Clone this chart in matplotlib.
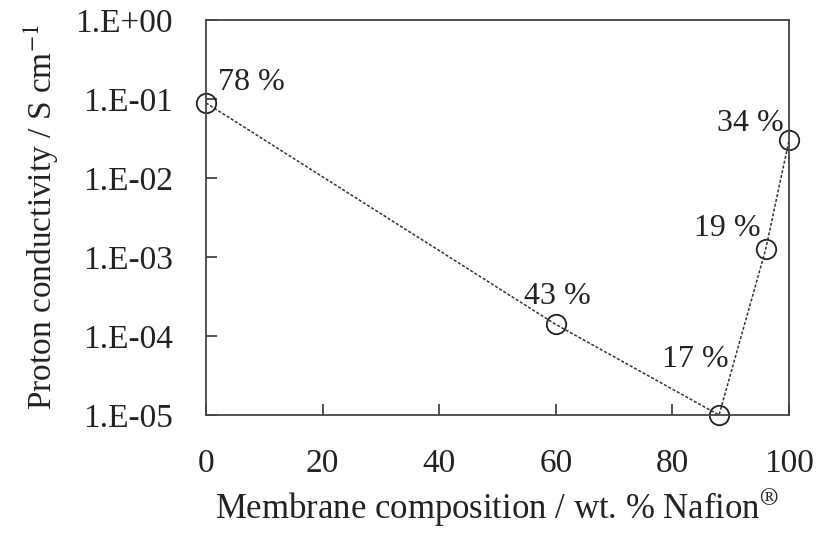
import numpy as np
import matplotlib
matplotlib.use("Agg")
import matplotlib.pyplot as plt
from matplotlib.ticker import FixedLocator, FuncFormatter

# data
nafion_wt = [0, 60, 88, 96, 100]
conductivity = [0.089, 1.4e-4, 1.0e-5, 1.25e-3, 3.0e-2]
uptake_labels = ["78 %", "43 %", "17 %", "19 %", "34 %"]
label_offsets = [(9, 15), (1, 20), (7, 40), (-4, 15), (-4, 12)]
label_ha = ["left", "center", "right", "right", "right"]

plt.rcParams['font.family'] = ['Liberation Serif', 'DejaVu Serif']
plt.rcParams['mathtext.fontset'] = 'stix'

fig = plt.figure(figsize=(8.23, 5.39), dpi=100)
ax = fig.add_axes([0.2503, 0.23, 0.7084, 0.733])

ax.plot(nafion_wt, conductivity, ls=(0, (2, 1.2)), color='#333333', lw=1.1,
        marker='o', ms=14, mfc='none', mec='#222222', mew=1.3, clip_on=False)

for x, y, t, off, ha in zip(nafion_wt, conductivity, uptake_labels, label_offsets, label_ha):
    ax.annotate(t, (x, y), xytext=off, textcoords='offset points',
                ha=ha, va='center', fontsize=23, color='#222222')

ax.set_yscale('log')
ax.set_xlim(0, 100)
ax.set_ylim(1e-5, 1)
ax.xaxis.set_major_locator(FixedLocator([0, 20, 40, 60, 80, 100]))
ax.yaxis.set_major_locator(FixedLocator([1e-5, 1e-4, 1e-3, 1e-2, 1e-1, 1]))
ax.yaxis.set_minor_locator(FixedLocator([]))
ax.yaxis.set_major_formatter(FuncFormatter(lambda v, p: "1.E%+03d" % int(round(np.log10(v)))))

ax.tick_params(axis='both', direction='in', length=8, width=1.2, colors='#333333',
               labelcolor='#222222', labelsize=24)
ax.tick_params(axis='x', pad=24)
ax.tick_params(axis='y', pad=24)
for s in ax.spines.values():
    s.set_linewidth(1.3)
    s.set_color('#444444')

ax.set_xlabel("Membrane composition / wt. % Nafion$^{\\circledR}$", fontsize=25,
              color='#222222', labelpad=6)
ax.set_ylabel("Proton conductivity / S cm$^{-1}$", fontsize=24, color='#222222',
              labelpad=10)

fig.savefig("out.png", dpi=100)
